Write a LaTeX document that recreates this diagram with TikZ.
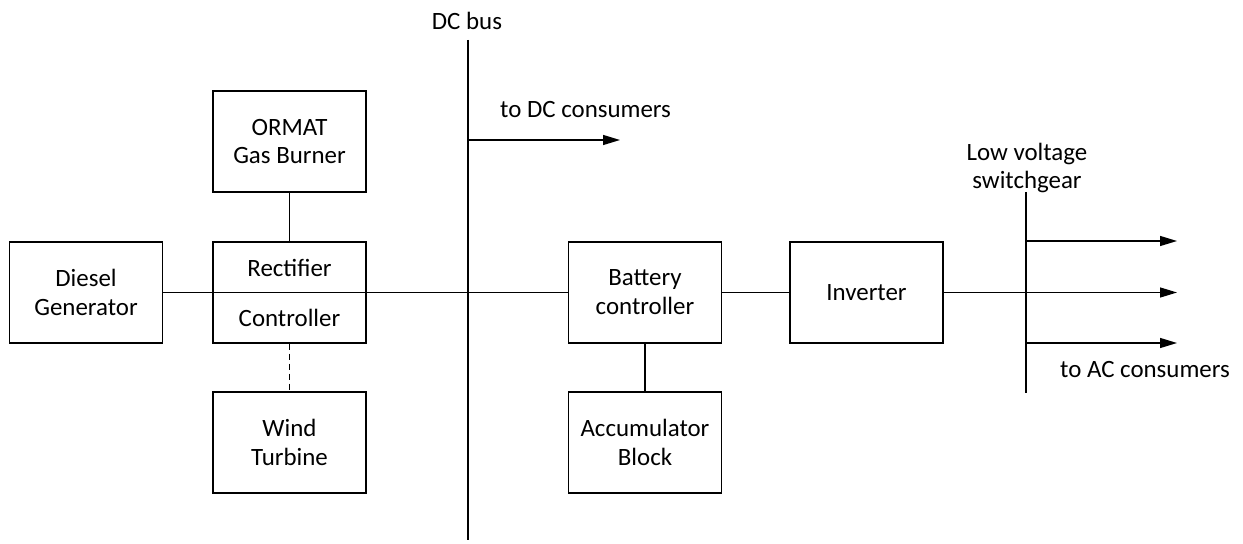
\documentclass[tikz,border=0pt]{standalone}
\usepackage{fontspec}
\setmainfont{Carlito}
\usetikzlibrary{arrows.meta}
\begin{document}
\begin{tikzpicture}[x=1bp,y=-1bp,
  every node/.style={font=\fontsize{25}{29}\selectfont},
  blk/.style={draw,line width=1.3bp,minimum width=153bp,minimum height=101bp,align=center,inner sep=0pt},
  wire/.style={line width=1.3bp},
  arr/.style={wire,-{Triangle[length=17bp,width=10bp]}},
  lbl/.style={inner sep=0pt,align=center}]
\useasboundingbox (0,0) rectangle (1243,544);
\node[blk] (diesel) at (86,292.5) {Diesel\\Generator};
\node[blk] (rect) at (289.5,292.5) {};
\node[lbl] (rtxt) at (289.5,268) {Rectifier};
\node[lbl] (ctxt) at (289.5,318) {Controller};
\node[blk] (ormat) at (289.5,141.5) {ORMAT\\Gas Burner};
\node[blk] (wind) at (289.5,442.5) {Wind\\Turbine};
\node[blk] (batt) at (645,292.5) {Battery\\controller};
\node[blk] (inv) at (866.5,292.5) {Inverter};
\node[blk] (acc) at (645,442.5) {Accumulator\\Block};
% DC bus
\coordinate (dctop) at (468,40);
\coordinate (dcbot) at (468,540);
\coordinate (dcarr) at (468,140);
\coordinate (dcend) at (620,140);
\draw[wire] (dctop) -- (dcbot);
\node[lbl] (dclbl) at (467,21) {DC bus};
\draw[arr] (dcarr) -- (dcend);
\node[lbl,anchor=west] (dccons) at (500,110) {to DC consumers};
% main horizontal
\draw[wire] (diesel.east) -- (batt.west);
\draw[wire] (ormat.south) -- (rect.north);
\draw[wire,dash pattern=on 6bp off 4bp] (rect.south) -- (wind.north);
\draw[wire] (batt.south) -- (acc.north);
\draw[wire] (batt.east) -- (inv.west);
% switchgear
\coordinate (swtop) at (1026,192);
\coordinate (swbot) at (1026,393);
\draw[wire] (swtop) -- (swbot);
\node[lbl] (swlbl) at (1027,168) {Low voltage\\switchgear};
\coordinate (s1) at (1026,241);
\coordinate (e1) at (1177,241);
\coordinate (e2) at (1177,292.5);
\coordinate (s3) at (1026,343);
\coordinate (e3) at (1177,343);
\draw[arr] (s1) -- (e1);
\draw[arr] (inv.east) -- (e2);
\draw[arr] (s3) -- (e3);
\node[lbl,anchor=west] (accons) at (1060,370) {to AC consumers};
\end{tikzpicture}
\end{document}
